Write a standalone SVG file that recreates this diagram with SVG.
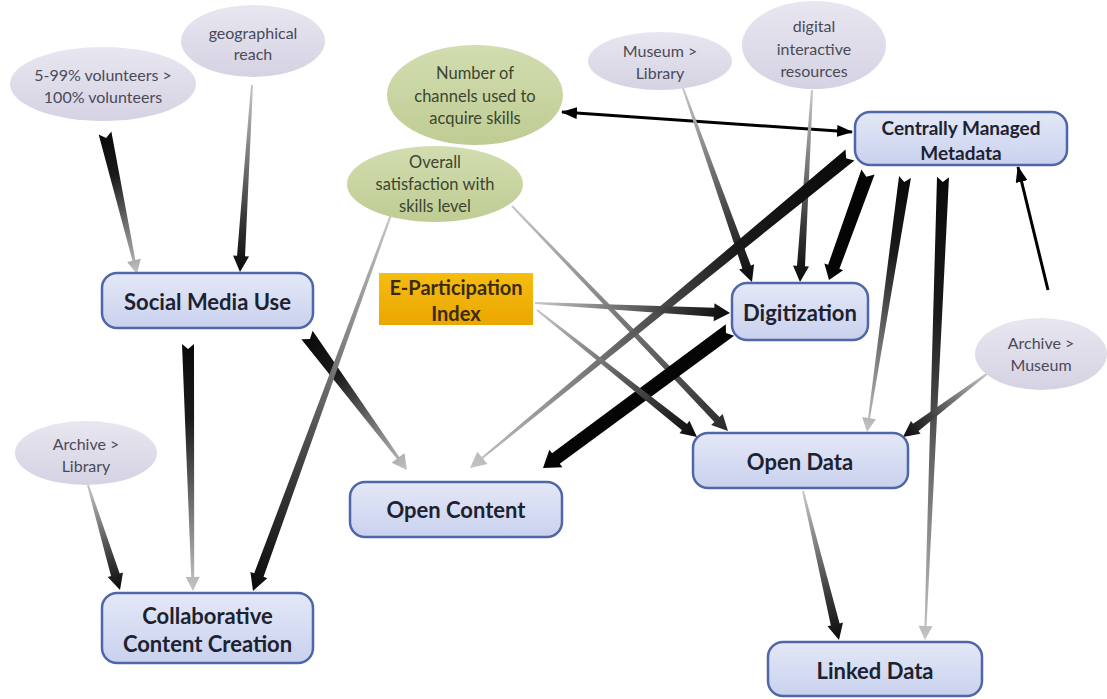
<svg xmlns="http://www.w3.org/2000/svg" width="1107" height="699" viewBox="0 0 1107 699">
<defs>
  <linearGradient id="d2l" x1="0" y1="0" x2="1" y2="0">
    <stop offset="0" stop-color="#0a0a0a"/>
    <stop offset="0.3" stop-color="#1a1a1a"/>
    <stop offset="1" stop-color="#c4c4c4"/>
  </linearGradient>
  <linearGradient id="l2d" x1="0" y1="0" x2="1" y2="0">
    <stop offset="0" stop-color="#c8c8c8"/>
    <stop offset="0.7" stop-color="#3a3a3a"/>
    <stop offset="1" stop-color="#0a0a0a"/>
  </linearGradient>
  <linearGradient id="l2m" x1="0" y1="0" x2="1" y2="0">
    <stop offset="0" stop-color="#c8c8c8"/>
    <stop offset="1" stop-color="#2a2a2a"/>
  </linearGradient>
  <linearGradient id="boxFill" x1="0" y1="0" x2="0" y2="1">
    <stop offset="0" stop-color="#e4e8f7"/>
    <stop offset="1" stop-color="#c9d1ee"/>
  </linearGradient>
  <linearGradient id="lavFill" x1="0" y1="0" x2="0" y2="1">
    <stop offset="0" stop-color="#e8e6f0"/>
    <stop offset="1" stop-color="#d5d3e3"/>
  </linearGradient>
  <linearGradient id="greenFill" x1="0" y1="0" x2="0" y2="1">
    <stop offset="0" stop-color="#d2ddb0"/>
    <stop offset="1" stop-color="#bfcc93"/>
  </linearGradient>
  <linearGradient id="orangeFill" x1="0" y1="0" x2="0" y2="1">
    <stop offset="0" stop-color="#f5bd10"/>
    <stop offset="1" stop-color="#eaa600"/>
  </linearGradient>
  <marker id="blackHead" markerUnits="userSpaceOnUse" markerWidth="16" markerHeight="12" refX="15" refY="6" orient="auto-start-reverse">
    <path d="M0,0 L16,6 L0,12 Z" fill="#000"/>
  </marker>
  <style>
    .box { fill: url(#boxFill); stroke: #4f66a8; stroke-width: 2.5; }
    .lav { fill: url(#lavFill); }
    .grn { fill: url(#greenFill); }
    .org { fill: url(#orangeFill); }
    .bt { font-family: Lato, "Open Sans", "Liberation Sans", sans-serif; font-weight: bold; font-size: 22px; fill: #1d2230; text-anchor: middle; dominant-baseline: central; }
    .bt2 { font-size: 19px; }
    .et { font-family: Lato, "Open Sans", "Liberation Sans", sans-serif; font-size: 16px; fill: #4a4a58; text-anchor: middle; dominant-baseline: central; }
    .gt { font-family: Lato, "Open Sans", "Liberation Sans", sans-serif; font-size: 16.5px; fill: #3c4530; text-anchor: middle; dominant-baseline: central; }
    .ot { font-family: Lato, "Open Sans", "Liberation Sans", sans-serif; font-weight: bold; font-size: 20px; fill: #3a2a10; text-anchor: middle; dominant-baseline: central; }
    .cD { fill: url(#d2l); }
    .cL { fill: url(#l2d); }
    .cM { fill: url(#l2m); }
    .cK { fill: #050505; }
    .thin { stroke: #000; stroke-width: 3; fill: none; }
  </style>
</defs>
<rect width="1107" height="699" fill="#ffffff"/>

<g id="connectors">
  <path id="e1" class="cD" transform="translate(105,133) rotate(77.21)" d="M0,-6.5 L130.6,-1.5 L130.6,-7 L144.6,0 L130.6,7 L130.6,1.5 L0,6.5 L5,0Z"/>
  <path id="e2" class="cL" transform="translate(252,85) rotate(93.67)" d="M0,-1 L171.4,-4 L171.4,-8 L187.4,0 L171.4,8 L171.4,4 L0,1Z"/>
  <path id="e3" class="cD" transform="translate(188,344) rotate(88.84)" d="M0,-6 L233,-1.5 L233,-7 L247,0 L233,7 L233,1.5 L0,6 L5,0Z"/>
  <path id="e4" class="cD" transform="translate(307,335) rotate(53.47)" d="M0,-7 L153,-1.5 L153,-8 L168,0 L153,8 L153,1.5 L0,7 L5,0Z"/>
  <path id="e5" class="cL" transform="translate(392,212) rotate(110.14)" d="M0,-1 L386.7,-5 L386.7,-9 L403.7,0 L386.7,9 L386.7,5 L0,1Z"/>
  <path id="e6" class="cM" transform="translate(512,206) rotate(46.17)" d="M0,-1 L295.9,-3.5 L295.9,-8 L311.9,0 L295.9,8 L295.9,3.5 L0,1Z"/>
  <line id="e7" class="thin" x1="562" y1="112" x2="852" y2="132" marker-start="url(#blackHead)" marker-end="url(#blackHead)"/>
  <path id="e8" class="cL" transform="translate(683,88) rotate(70.43)" d="M0,-1 L189.9,-4.5 L189.9,-8 L205.9,0 L189.9,8 L189.9,4.5 L0,1Z"/>
  <path id="e9" class="cL" transform="translate(812,90) rotate(93.58)" d="M0,-1 L176.4,-4 L176.4,-8 L192.4,0 L176.4,8 L176.4,4 L0,1Z"/>
  <path id="e10" class="cK" transform="translate(868,172) rotate(109.85)" d="M0,-7 L100.8,-6 L100.8,-10 L114.8,0 L100.8,10 L100.8,6 L0,7 L5,0Z"/>
  <path id="e11" class="cD" transform="translate(850,155) rotate(140.52)" d="M0,-7 L476.3,-1 L476.3,-8 L492.3,0 L476.3,8 L476.3,1 L0,7 L5,0Z"/>
  <path id="e12" class="cK" transform="translate(730,330) rotate(143.57)" d="M0,-7 L216.4,-6.5 L216.4,-11 L232.4,0 L216.4,11 L216.4,6.5 L0,7 L5,0Z"/>
  <path id="e13" class="cL" transform="translate(535,303) rotate(2.94)" d="M0,-1 L179.3,-4.5 L179.3,-9 L195.3,0 L179.3,9 L179.3,4.5 L0,1Z"/>
  <path id="e14" class="cL" transform="translate(537,310) rotate(38.44)" d="M0,-1 L188.3,-4 L188.3,-8 L204.3,0 L188.3,8 L188.3,4 L0,1Z"/>
  <path id="e15" class="cD" transform="translate(905,177) rotate(98.48)" d="M0,-6 L243.8,-1 L243.8,-7 L257.8,0 L243.8,7 L243.8,1 L0,6 L5,0Z"/>
  <path id="e16" class="cD" transform="translate(943,177) rotate(92.23)" d="M0,-6 L449.35,-1 L449.35,-7 L463.35,0 L449.35,7 L449.35,1 L0,6 L5,0Z"/>
  <line id="e17" class="thin" x1="1048" y1="290" x2="1018" y2="167" marker-end="url(#blackHead)"/>
  <path id="e18" class="cL" transform="translate(988,373) rotate(143.02)" d="M0,-1 L90.4,-4.5 L90.4,-8 L106.4,0 L90.4,8 L90.4,4.5 L0,1Z"/>
  <path id="e19" class="cL" transform="translate(803,491) rotate(76.42)" d="M0,-1 L137.3,-4.5 L137.3,-8 L153.3,0 L137.3,8 L137.3,4.5 L0,1Z"/>
  <path id="e20" class="cL" transform="translate(88,485) rotate(73.05)" d="M0,-1 L93.8,-4.5 L93.8,-8 L109.8,0 L93.8,8 L93.8,4.5 L0,1Z"/>
</g>

<g id="n-volunteers">
  <ellipse class="lav" cx="103" cy="84" rx="93" ry="37"/>
  <text class="et" x="103" y="74">5-99% volunteers &gt;</text>
  <text class="et" x="103" y="96">100% volunteers</text>
</g>
<g id="n-geo">
  <ellipse class="lav" cx="253" cy="41" rx="72" ry="36"/>
  <text class="et" x="253" y="32">geographical</text>
  <text class="et" x="253" y="53">reach</text>
</g>
<g id="n-channels">
  <ellipse class="grn" cx="475" cy="95" rx="88" ry="50"/>
  <text class="gt" x="475" y="73">Number of</text>
  <text class="gt" x="475" y="96">channels used to</text>
  <text class="gt" x="475" y="118">acquire skills</text>
</g>
<g id="n-satisfaction">
  <ellipse class="grn" cx="435" cy="184" rx="88" ry="38"/>
  <text class="gt" x="435" y="162">Overall</text>
  <text class="gt" x="435" y="184">satisfaction with</text>
  <text class="gt" x="435" y="206">skills level</text>
</g>
<g id="n-museum-library">
  <ellipse class="lav" cx="660" cy="61" rx="72" ry="29"/>
  <text class="et" x="660" y="50">Museum &gt;</text>
  <text class="et" x="660" y="72">Library</text>
</g>
<g id="n-digital">
  <ellipse class="lav" cx="814" cy="45" rx="72" ry="44"/>
  <text class="et" x="814" y="25">digital</text>
  <text class="et" x="814" y="48">interactive</text>
  <text class="et" x="814" y="70">resources</text>
</g>
<g id="n-archive-museum">
  <ellipse class="lav" cx="1041" cy="354" rx="66" ry="36"/>
  <text class="et" x="1041" y="342">Archive &gt;</text>
  <text class="et" x="1041" y="364">Museum</text>
</g>
<g id="n-archive-library">
  <ellipse class="lav" cx="86" cy="453" rx="71" ry="32"/>
  <text class="et" x="86" y="443">Archive &gt;</text>
  <text class="et" x="86" y="465">Library</text>
</g>
<g id="n-eparticipation">
  <rect class="org" x="379" y="273" width="154" height="52"/>
  <text class="ot" x="456" y="287">E-Participation</text>
  <text class="ot" x="456" y="313">Index</text>
</g>
<g id="n-social">
  <rect class="box" x="102" y="273" width="211" height="55" rx="15"/>
  <text class="bt" x="207.5" y="301">Social Media Use</text>
</g>
<g id="n-collab">
  <rect class="box" x="102" y="593" width="211" height="70" rx="15"/>
  <text class="bt" x="207.5" y="615">Collaborative</text>
  <text class="bt" x="207.5" y="643">Content Creation</text>
</g>
<g id="n-opencontent">
  <rect class="box" x="350" y="482" width="212" height="55" rx="15"/>
  <text class="bt" x="456" y="509">Open Content</text>
</g>
<g id="n-digitization">
  <rect class="box" x="732" y="283" width="136" height="57" rx="15"/>
  <text class="bt" x="800" y="312">Digitization</text>
</g>
<g id="n-opendata">
  <rect class="box" x="693" y="433" width="215" height="55" rx="15"/>
  <text class="bt" x="800" y="461">Open Data</text>
</g>
<g id="n-linkeddata">
  <rect class="box" x="768" y="642" width="214" height="54" rx="15"/>
  <text class="bt" x="875" y="670">Linked Data</text>
</g>
<g id="n-metadata">
  <rect class="box" x="855" y="112" width="212" height="53" rx="15"/>
  <text class="bt bt2" x="961" y="127">Centrally Managed</text>
  <text class="bt bt2" x="961" y="152">Metadata</text>
</g>
</svg>
